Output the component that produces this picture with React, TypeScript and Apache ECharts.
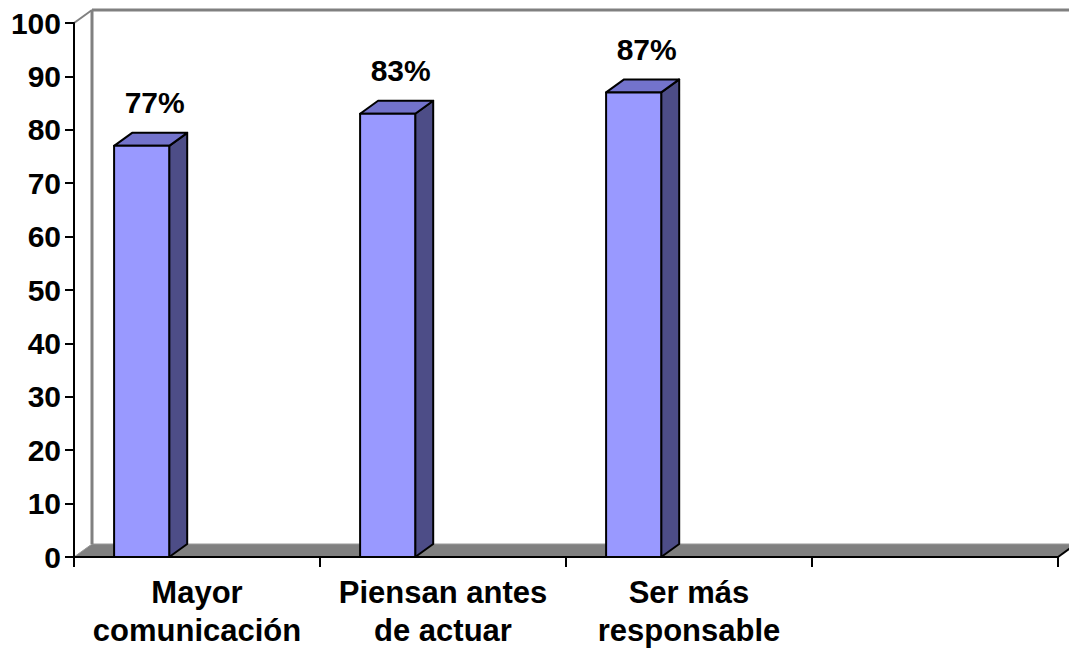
import React, { useEffect, useRef } from "react";
import * as echarts from "echarts";

const categories = ["Mayor\ncomunicación", "Piensan antes\nde actuar", "Ser más\nresponsable", ""];
const values = [77, 83, 87];
const valueLabels = ["77%", "83%", "87%"];
const yTicks = { min: 0, max: 100, interval: 10 };

const DX = 18;
const DY = 13;
const FONT = "'Liberation Sans', Arial, sans-serif";

export default function App() {
  const ref = useRef<HTMLDivElement>(null);
  useEffect(() => {
    const chart = echarts.init(ref.current!, null, { renderer: "svg" });
    chart.setOption({
      animation: false,
      backgroundColor: "#ffffff",
      grid: { left: 74, right: 11, top: 23, bottom: 95 },
      xAxis: {
        type: "category",
        data: categories,
        z: 10,
        axisLine: { lineStyle: { color: "#000", width: 2 } },
        axisTick: { show: true, length: 10, lineStyle: { color: "#000", width: 2 } },
        axisLabel: {
          color: "#000",
          fontFamily: FONT,
          fontWeight: "bold",
          fontSize: 31,
          lineHeight: 38,
          margin: 16,
          interval: 0,
        },
      },
      yAxis: {
        type: "value",
        min: yTicks.min,
        max: yTicks.max,
        interval: yTicks.interval,
        z: 10,
        axisLine: { show: true, lineStyle: { color: "#000", width: 2 } },
        axisTick: { show: true, length: 9, lineStyle: { color: "#000", width: 2 } },
        splitLine: { show: false },
        axisLabel: {
          color: "#000",
          fontFamily: FONT,
          fontWeight: "bold",
          fontSize: 30,
          margin: 13,
        },
      },
      series: [
        {
          type: "custom",
          z: 1,
          data: [[0, 0]],
          encode: { x: 0, y: 1 },
          silent: true,
          renderItem: (params: any, api: any) => {
            const cs = params.coordSys;
            const x0 = cs.x;
            const x1 = cs.x + cs.width;
            const yTop = cs.y;
            const yb = cs.y + cs.height;
            const gray = "#808080";
            return {
              type: "group",
              children: [
                {
                  type: "polygon",
                  shape: {
                    points: [
                      [x0, yb],
                      [x1, yb],
                      [x1 + DX, yb - DY],
                      [x0 + DX, yb - DY],
                    ],
                  },
                  style: { fill: gray, stroke: "#999999", lineWidth: 1 },
                },
                {
                  type: "line",
                  shape: { x1: x0 + DX, y1: yb - DY, x2: x0 + DX, y2: yTop - DY },
                  style: { stroke: gray, lineWidth: 3 },
                },
                {
                  type: "line",
                  shape: { x1: x0 + DX, y1: yTop - DY, x2: x1 + DX + 20, y2: yTop - DY },
                  style: { stroke: gray, lineWidth: 3 },
                },
                {
                  type: "line",
                  shape: { x1: x0, y1: yTop, x2: x0 + DX, y2: yTop - DY },
                  style: { stroke: gray, lineWidth: 2 },
                },
                {
                  type: "line",
                  shape: { x1: x1, y1: yb, x2: x1 + DX, y2: yb - DY },
                  style: { stroke: "#000", lineWidth: 2 },
                },
              ],
            };
          },
        },
        {
          type: "custom",
          z: 3,
          data: values.map((v, i) => [i, v]),
          encode: { x: 0, y: 1 },
          renderItem: (params: any, api: any) => {
            const i = api.value(0);
            const v = api.value(1);
            const base = api.coord([i, 0]);
            const top = api.coord([i, v]);
            const band = api.size([1, 0])[0];
            const left = base[0] - band / 2 + band * 0.163;
            const w = band * 0.224;
            const right = left + w;
            const yb = base[1];
            const yt = top[1];
            const stroke = { stroke: "#000", lineWidth: 2, lineJoin: "round" };
            return {
              type: "group",
              children: [
                {
                  type: "polygon",
                  shape: {
                    points: [
                      [right, yb],
                      [right + DX, yb - DY],
                      [right + DX, yt - DY],
                      [right, yt],
                    ],
                  },
                  style: { fill: "#4d4d87", ...stroke },
                },
                {
                  type: "polygon",
                  shape: {
                    points: [
                      [left, yt],
                      [left + DX, yt - DY],
                      [right + DX, yt - DY],
                      [right, yt],
                    ],
                  },
                  style: { fill: "#7373cc", ...stroke },
                },
                {
                  type: "rect",
                  shape: { x: left, y: yt, width: w, height: yb - yt },
                  style: { fill: "#9999ff", ...stroke },
                },
                {
                  type: "text",
                  style: {
                    text: valueLabels[i],
                    x: left + (w + DX) / 2 + 4,
                    y: yt - DY - 15,
                    align: "center",
                    verticalAlign: "bottom",
                    fill: "#000",
                    font: `bold 30px ${FONT}`,
                  },
                },
              ],
            };
          },
        },
      ],
    });
    return () => chart.dispose();
  }, []);
  return (
    <div
      ref={ref}
      style={{ position: "absolute", left: 0, top: 0, width: 1069, height: 652 }}
    />
  );
}
